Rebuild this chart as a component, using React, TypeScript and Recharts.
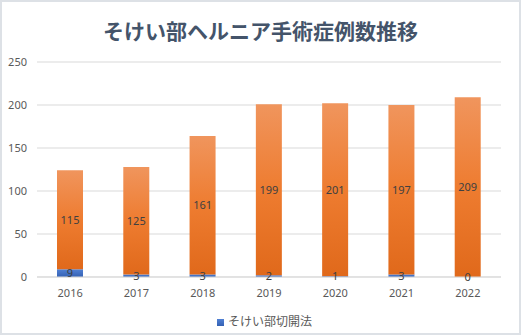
import React from 'react';
import { BarChart, Bar, XAxis, YAxis, CartesianGrid, Legend, LabelList } from 'recharts';

const years = ['2016', '2017', '2018', '2019', '2020', '2021', '2022'];
const incisionValues = [9, 3, 3, 2, 1, 3, 0];
const otherValues = [115, 125, 161, 199, 201, 197, 209];
const yTicks = [0, 50, 100, 150, 200, 250];

const data = years.map((y, i) => ({ year: y, incision: incisionValues[i], other: otherValues[i] }));

const FONT = '"Noto Sans", "Noto Sans CJK JP", sans-serif';

const CenterLabel = (props: any) => {
  const { x, y, width, height, value } = props;
  if (x == null || y == null) return null;
  const cx = Number(x) + Number(width) / 2;
  const cy = Number(y) + Number(height || 0) / 2;
  return (
    <text x={cx} y={cy} dy="0.35em" textAnchor="middle" fill="#404040" fontSize={11} fontFamily={FONT}>
      {value}
    </text>
  );
};

// Label for a zero-valued incision segment: sits at the bottom of the orange bar (the baseline)
const ZeroIncisionLabel = (props: any) => {
  const { x, y, width, height, index } = props;
  if (x == null || y == null) return null;
  if (incisionValues[index] !== 0) return null;
  const cx = Number(x) + Number(width) / 2;
  const cy = Number(y) + Number(height || 0);
  return (
    <text x={cx} y={cy} dy="0.35em" textAnchor="middle" fill="#404040" fontSize={11} fontFamily={FONT}>
      {incisionValues[index]}
    </text>
  );
};

export default function App() {
  return (
    <div
      style={{
        position: 'absolute',
        left: 0,
        top: 0,
        width: 521,
        height: 335,
        boxSizing: 'border-box',
        border: '2px solid #dde1e6',
        background: '#fff',
        overflow: 'hidden',
      }}
    >
      <div
        style={{
          position: 'absolute',
          left: -2,
          top: 13,
          width: 521,
          textAlign: 'center',
          fontFamily: '"Noto Sans CJK JP", sans-serif',
          fontWeight: 700,
          fontSize: 21,
          lineHeight: '30px',
          color: '#44546a',
        }}
      >
        そけい部ヘルニア手術症例数推移
      </div>
      <div style={{ position: 'absolute', left: -2, top: -2 }}>
        <BarChart
          width={521}
          height={335}
          data={data}
          margin={{ top: 62, right: 20, bottom: 6, left: 0 }}
          barSize={26}
        >
          <defs>
            <linearGradient id="orangeGrad" x1="0" y1="0" x2="0" y2="1">
              <stop offset="0%" stopColor="#f0955d" />
              <stop offset="50%" stopColor="#ee7c30" />
              <stop offset="100%" stopColor="#e0691b" />
            </linearGradient>
            <linearGradient id="blueGrad" x1="0" y1="0" x2="0" y2="1">
              <stop offset="0%" stopColor="#5080d4" />
              <stop offset="100%" stopColor="#3461b3" />
            </linearGradient>
          </defs>
          <CartesianGrid vertical={false} stroke="#d9d9d9" />
          <XAxis
            dataKey="year"
            axisLine={{ stroke: '#d9d9d9' }}
            tickLine={false}
            tickMargin={6}
            height={36}
            tick={{ fill: '#595959', fontSize: 11, fontFamily: FONT }}
          />
          <YAxis
            width={37}
            domain={[0, 250]}
            ticks={yTicks}
            axisLine={false}
            tickLine={false}
            tickMargin={4}
            tick={{ fill: '#595959', fontSize: 11, fontFamily: FONT }}
          />
          <Legend
            verticalAlign="bottom"
            align="center"
            iconType="square"
            iconSize={7}
            wrapperStyle={{ fontSize: 12, lineHeight: '16px', fontFamily: '"Noto Sans CJK JP", sans-serif', paddingLeft: 19 }}
            formatter={(value) => <span style={{ color: '#595959' }}>{value}</span>}
          />
          <Bar dataKey="incision" name="そけい部切開法" stackId="a" fill="url(#blueGrad)" isAnimationActive={false}>
            <LabelList dataKey="incision" content={CenterLabel} />
          </Bar>
          <Bar dataKey="other" name="その他" stackId="a" fill="url(#orangeGrad)" legendType="none" isAnimationActive={false}>
            <LabelList dataKey="other" content={CenterLabel} />
            <LabelList dataKey="incision" content={ZeroIncisionLabel} />
          </Bar>
        </BarChart>
      </div>
    </div>
  );
}
